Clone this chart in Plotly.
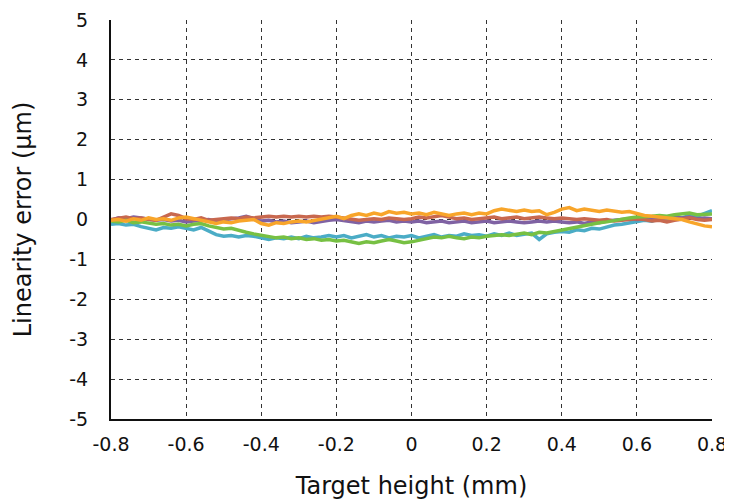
import plotly.graph_objects as go

# Target height (mm), step 0.02
x_vals = [round(-0.8 + 0.02 * i, 2) for i in range(81)]

blue = [-0.12, -0.10, -0.14, -0.12, -0.18, -0.22, -0.26, -0.20, -0.22, -0.18,
        -0.22, -0.26, -0.20, -0.30, -0.38, -0.42, -0.40, -0.44, -0.40, -0.42,
        -0.45, -0.50, -0.46, -0.48, -0.44, -0.48, -0.42, -0.46, -0.44, -0.40,
        -0.44, -0.40, -0.46, -0.42, -0.38, -0.44, -0.40, -0.46, -0.42, -0.44,
        -0.40, -0.46, -0.42, -0.38, -0.44, -0.40, -0.42, -0.36, -0.40, -0.38,
        -0.42, -0.36, -0.40, -0.34, -0.40, -0.38, -0.34, -0.50, -0.36, -0.32,
        -0.30, -0.32, -0.26, -0.28, -0.22, -0.24, -0.18, -0.14, -0.12, -0.08,
        -0.04, -0.02, -0.04, 0.02, 0.00, 0.06, 0.04, 0.10, 0.08, 0.14,
        0.22]

green = [-0.04, -0.06, -0.02, -0.08, -0.06, -0.10, -0.12, -0.10, -0.14, -0.12,
         -0.16, -0.12, -0.10, -0.16, -0.20, -0.24, -0.22, -0.28, -0.32, -0.36,
         -0.40, -0.44, -0.46, -0.44, -0.48, -0.46, -0.50, -0.48, -0.52, -0.50,
         -0.54, -0.52, -0.56, -0.60, -0.56, -0.58, -0.54, -0.50, -0.54, -0.58,
         -0.56, -0.52, -0.48, -0.44, -0.46, -0.42, -0.46, -0.48, -0.44, -0.46,
         -0.42, -0.40, -0.38, -0.40, -0.36, -0.34, -0.38, -0.32, -0.34, -0.30,
         -0.26, -0.24, -0.20, -0.16, -0.12, -0.08, -0.06, -0.02, 0.00, 0.04,
         0.06, 0.06, 0.08, 0.10, 0.08, 0.12, 0.14, 0.16, 0.12, 0.14,
         0.14]

orange = [-0.02, 0.00, -0.04, 0.02, -0.02, 0.04, 0.00, 0.02, -0.02, 0.04,
          0.06, 0.02, -0.04, -0.08, -0.10, -0.06, -0.08, -0.04, -0.02, 0.00,
          -0.10, -0.14, -0.08, -0.10, -0.06, -0.04, -0.06, -0.02, 0.00, 0.04,
          0.08, 0.02, 0.10, 0.14, 0.10, 0.16, 0.12, 0.20, 0.16, 0.18,
          0.14, 0.16, 0.12, 0.18, 0.14, 0.10, 0.14, 0.16, 0.12, 0.16,
          0.14, 0.22, 0.26, 0.24, 0.20, 0.24, 0.20, 0.22, 0.12, 0.18,
          0.26, 0.30, 0.22, 0.26, 0.22, 0.20, 0.24, 0.22, 0.18, 0.20,
          0.14, 0.10, 0.08, 0.06, 0.04, 0.02, 0.00, -0.06, -0.12, -0.16,
          -0.18]

red = [0.00, 0.02, 0.06, 0.02, 0.04, 0.00, -0.02, 0.06, 0.14, 0.10,
       0.02, 0.00, 0.04, -0.02, 0.00, 0.02, 0.04, 0.02, 0.06, 0.04,
       0.06, 0.08, 0.06, 0.08, 0.06, 0.08, 0.06, 0.08, 0.06, 0.08,
       0.06, 0.04, 0.02, -0.02, 0.00, 0.02, 0.00, 0.04, 0.02, 0.00,
       0.02, 0.06, 0.04, 0.08, 0.10, 0.06, 0.02, 0.04, 0.00, 0.02,
       0.04, 0.06, 0.02, 0.04, 0.06, 0.02, 0.04, 0.06, 0.04, 0.02,
       0.04, 0.02, 0.00, 0.02, 0.00, -0.02, 0.00, -0.04, -0.02, 0.00,
       0.02, 0.00, -0.04, -0.02, -0.06, -0.02, 0.02, 0.04, 0.00, -0.02,
       0.00]

purple = [-0.02, 0.04, 0.02, 0.06, 0.04, 0.00, -0.02, 0.00, -0.04, -0.02,
          -0.06, -0.04, -0.02, 0.00, -0.04, 0.00, 0.02, 0.04, 0.08, 0.02,
          -0.04, -0.02, -0.06, -0.04, -0.08, -0.06, -0.04, -0.08, -0.04, -0.02,
          0.00, -0.02, -0.06, -0.08, -0.04, -0.06, -0.04, -0.02, -0.06, -0.04,
          -0.06, -0.04, -0.08, -0.06, -0.04, -0.08, -0.06, -0.04, -0.08, -0.06,
          -0.04, -0.08, -0.06, -0.04, -0.06, -0.08, -0.06, -0.04, -0.06, -0.04,
          -0.06, -0.08, -0.06, -0.10, -0.06, -0.08, -0.04, -0.02, 0.00, 0.02,
          0.00, 0.02, 0.04, 0.02, 0.04, 0.06, 0.04, 0.06, 0.02, 0.04,
          0.02]

x_ticks = [-0.8, -0.6, -0.4, -0.2, 0, 0.2, 0.4, 0.6, 0.8]
x_tick_text = ["-0.8", "-0.6", "-0.4", "-0.2", "0", "0.2", "0.4", "0.6", "0.8"]
y_ticks = [-5, -4, -3, -2, -1, 0, 1, 2, 3, 4, 5]
y_tick_text = [str(v) for v in y_ticks]

series = [
    ("Series 1", blue, "#4BACC6"),
    ("Series 2", purple, "#7F62A3"),
    ("Series 3", red, "#C8684F"),
    ("Series 4", green, "#77C043"),
    ("Series 5", orange, "#F8A52A"),
]

fig = go.Figure()
for name, vals, col in series:
    fig.add_trace(go.Scatter(x=x_vals, y=vals, mode="lines", name=name,
                             line=dict(color=col, width=3.5)))

font_family = "DejaVu Sans, Liberation Sans, Arial, sans-serif"

fig.update_layout(
    width=732, height=503,
    margin=dict(l=103, r=28, t=12, b=92),
    paper_bgcolor="white", plot_bgcolor="white",
    showlegend=False,
    font=dict(family=font_family, color="#111111", size=19),
)
fig.update_xaxes(
    range=[-0.8, 0.8], tickvals=x_ticks, ticktext=x_tick_text,
    showline=True, linecolor="#111111", linewidth=2, mirror=False,
    showgrid=True, gridcolor="#333333", gridwidth=1, griddash="4px,4px",
    zeroline=False, ticks="", ticklabelstandoff=7, ticklabeloverflow="allow",
    tickfont=dict(size=19),
    title=dict(text="Target height (mm)", font=dict(size=24), standoff=23),
    automargin=False,
)
fig.update_yaxes(
    range=[-5, 5], tickvals=y_ticks, ticktext=y_tick_text,
    showline=True, linecolor="#111111", linewidth=2, mirror=False,
    showgrid=True, gridcolor="#333333", gridwidth=1, griddash="4px,4px",
    zeroline=False, ticks="", ticklabelstandoff=17, ticklabeloverflow="allow",
    tickfont=dict(size=19),
    title=dict(text="Linearity error (μm)", font=dict(size=24), standoff=31),
    automargin=False,
)

fig.write_html("out.html")
